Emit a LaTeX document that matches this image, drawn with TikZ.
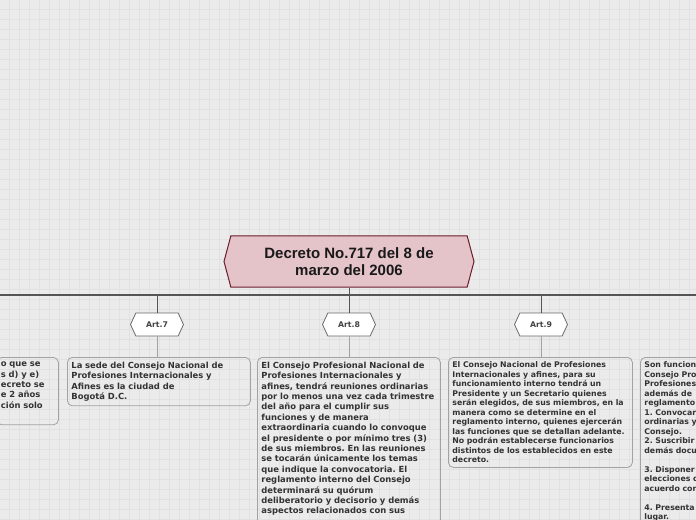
\documentclass[tikz,border=0pt]{standalone}
\usepackage{fontspec}
\usetikzlibrary{shapes.symbols}
\newfontfamily\boxfont{DejaVu Sans}
\newfontfamily\titlefont{Liberation Sans}
\frenchspacing
\definecolor{bgcol}{HTML}{EBEBEB}
\definecolor{gridcol}{HTML}{E1E1E1}
\definecolor{titlefill}{HTML}{E5C4C9}
\definecolor{titleline}{HTML}{6B1D2C}
\definecolor{buscol}{HTML}{555555}
\definecolor{artline}{HTML}{6A6A6A}
\definecolor{arttext}{HTML}{444444}
\definecolor{boxline}{HTML}{A2A2A2}
\definecolor{boxtext}{HTML}{333333}
\tikzset{
  decreto/.style={signal, signal to=west and east, signal pointer angle=150,
    draw=titleline, fill=titlefill, line width=1bp, inner sep=0pt,
    minimum width=250bp, minimum height=51bp, align=center, text=black!90,
    font=\titlefont\bfseries\fontsize{15bp}{17bp}\selectfont},
  articulo/.style={signal, signal to=west and east, signal pointer angle=130,
    draw=artline, fill=white, line width=0.8bp, inner sep=0pt,
    minimum width=53bp, minimum height=23bp, text=arttext,
    font=\boxfont\bfseries\fontsize{7.8bp}{9bp}\selectfont},
  textbox/.style={draw=boxline, line width=0.8bp, rounded corners=5bp,
    anchor=north west, align=left, inner xsep=4bp, inner ysep=4.5bp, text=boxtext,
    execute at begin node={\hyphenpenalty=10000},
    font=\boxfont\bfseries\fontsize{8.4bp}{10.4bp}\selectfont},
  smalltext/.style={font=\boxfont\bfseries\fontsize{7.8bp}{9.5bp}\selectfont},
  bus/.style={draw=buscol, line width=2bp},
  stem/.style={draw=buscol, line width=1bp},
  twig/.style={draw=boxline, line width=1bp}
}
\begin{document}
\begin{tikzpicture}[x=1bp,y=-1bp]
\useasboundingbox (0,0) rectangle (696,520);
\clip (0,0) rectangle (696,520);
\fill[bgcol] (0,0) rectangle (696,520);
\foreach \g in {0,...,69} \draw[gridcol, line width=1bp] (9.5+10*\g,0) -- (9.5+10*\g,520);
\foreach \g in {0,...,51} \draw[gridcol, line width=1bp] (0,9.5+10*\g) -- (696,9.5+10*\g);
% central topic
\node[decreto] (decreto) at (349,261.5) {Decreto No.717 del 8 de\\marzo del 2006};
\coordinate (busL) at (0,295);
\coordinate (busR) at (696,295);
\draw[bus] (busL) -- (busR);
\draw[stem] (decreto.south) -- (decreto.south |- busL);
% articles
\node[articulo] (art7) at (157,324.5) {Art.7};
\node[articulo] (art8) at (349,324.5) {Art.8};
\node[articulo] (art9) at (541,324.5) {Art.9};
\foreach \a in {art7,art8,art9} \draw[stem] (\a.north |- busL) -- (\a.north);
% text boxes
\node[textbox, text width=53.5bp] (prev) at (-3.5,357)
  {o que se\\s d) y e)\\ecreto se\\e 2 años\\ción solo\par\vspace{12bp}};
\node[textbox, text width=175bp] (box7) at (67,357)
  {La sede del Consejo Nacional de\\Profesiones Internacionales y\\Afines es la ciudad de\\Bogotá D.C.};
\node[textbox, text width=175bp] (box8) at (257,357)
  {El Consejo Profesional Nacional de\\Profesiones Internacionales y\\afines, tendrá reuniones ordinarias\\por lo menos una vez cada trimestre\\del año para el cumplir sus\\funciones y de manera\\extraordinaria cuando lo convoque\\el presidente o por mínimo tres (3)\\de sus miembros. En las reuniones\\se tocarán únicamente los temas\\que indique la convocatoria. El\\reglamento interno del Consejo\\determinará su quórum\\deliberatorio y decisorio y demás\\aspectos relacionados con sus\par\vspace{20bp}};
\node[textbox, smalltext, text width=176bp] (box9) at (448,357)
  {El Consejo Nacional de Profesiones\\Internacionales y afines, para su\\funcionamiento interno tendrá un\\Presidente y un Secretario quienes\\serán elegidos, de sus miembros, en la\\manera como se determine en el\\reglamento interno, quienes ejercerán\\las funciones que se detallan adelante.\\No podrán establecerse funcionarios\\distintos de los establecidos en este\\decreto.};
\node[textbox, smalltext, text width=180bp] (next) at (640,357)
  {Son funcion\\Consejo Pro\\Profesiones\\además de\\reglamento\\1. Convocar\\ordinarias y\\Consejo.\\2. Suscribir\\demás docu\\[9.5bp]3. Disponer\\elecciones d\\acuerdo con\\[9.5bp]4. Presenta\\lugar.\par\vspace{20bp}};
\draw[twig] (art7.south) -- (art7.south |- box7.north);
\draw[twig] (art8.south) -- (art8.south |- box8.north);
\draw[twig] (art9.south) -- (art9.south |- box9.north);
\end{tikzpicture}
\end{document}
